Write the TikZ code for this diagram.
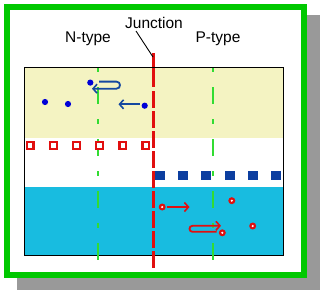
\documentclass[tikz,border=0pt]{standalone}
\usepackage{fontspec}
\setmainfont{Liberation Sans}
\usetikzlibrary{arrows.meta}
\definecolor{frameg}{RGB}{0,200,0}
\definecolor{dashg}{RGB}{50,220,50}
\definecolor{shadowgray}{RGB}{153,153,153}
\definecolor{nyellow}{RGB}{244,243,194}
\definecolor{pblue}{RGB}{24,188,224}
\definecolor{ionblue}{RGB}{12,62,160}
\definecolor{arrblue}{RGB}{20,72,160}
\definecolor{elblue}{RGB}{0,0,215}
\definecolor{jred}{RGB}{225,15,15}
\tikzset{
  lbl/.style={font=\fontsize{15.5}{18}\selectfont, anchor=base, inner sep=0pt},
  greendash/.style={dashg, line width=2pt, dash pattern=on 17pt off 15pt on 5pt off 15pt, dash phase=9pt},
  redline/.style={jred, line width=3pt},
  electron/.style={circle, fill=elblue, minimum size=6.2pt, inner sep=0pt},
  holeouter/.style={circle, fill=jred, minimum size=7pt, inner sep=0pt},
  holeinner/.style={circle, fill=white, minimum size=2.4pt, inner sep=0pt},
  posion/.style={draw=jred, line width=2.2pt, fill=white, minimum size=6.5pt, inner sep=0pt},
  negion/.style={fill=ionblue, minimum width=10pt, minimum height=9.3pt, inner sep=0pt},
  bluearrow/.style={arrblue, line width=1.8pt, -{Straight Barb[length=4pt,width=9pt,line width=1.6pt]}},
  redarrow/.style={jred, line width=1.8pt, -{Straight Barb[length=4pt,width=9pt,line width=1.6pt]}},
}
\begin{document}
\begin{tikzpicture}[x=1pt,y=-1pt]
\useasboundingbox (0,0) rectangle (322,295);
% shadow and frame
\fill[shadowgray] (17,15) rectangle (320,290);
\draw[frameg, line width=6pt, fill=white] (7,6.5) rectangle (304,275);
% regions
\fill[nyellow] (24.3,67.7) rectangle (283.7,137.7);
\fill[white] (24.3,137.7) rectangle (283.7,186.7);
\fill[pblue] (24.3,186.7) rectangle (283.7,255.7);
\draw[black, line width=1.1pt] (24.3,67.7) rectangle (283.7,255.7);
% labels
\node[lbl] (junc) at (154,28.3) {Junction};
\node[lbl] (ntype) at (88,42.7) {N-type};
\node[lbl] (ptype) at (218,42.7) {P-type};
% dashed guide lines
\coordinate (ntop) at (97.7,44);
\coordinate (nbot) at (97.7,269);
\coordinate (ptop) at (212.7,44);
\coordinate (pbot) at (212.7,269);
\begin{scope}
\clip (0,53) rectangle (322,295);
\draw[greendash] (ntop) -- (nbot);
\draw[greendash] (ptop) -- (pbot);
\end{scope}
% junction line
\coordinate (jtop) at (153.5,53);
\coordinate (jmid) at (153.5,87);
\coordinate (jdash) at (153.5,91);
\coordinate (jbot) at (153.5,267.5);
\draw[redline] (jtop) -- (jmid);
\draw[redline, dash pattern=on 16.5pt off 3.5pt] (jdash) -- (jbot);
\draw[black, line width=1.1pt] (24.3,67.7) -- (283.7,67.7);
% pointer
\coordinate (pstart) at (136,31);
\coordinate (pend) at (153,57);
\draw[black, line width=0.9pt] (pstart) -- (pend);
% positive ions (hollow red squares)
\foreach \i/\x in {1/30.3,2/53.4,3/76.5,4/99.6,5/122.7,6/145.8}
  \node[posion] (pi\i) at (\x,145.5) {};
% negative ions (blue squares)
\foreach \i/\x in {1/160,2/183.2,3/206.4,4/229.6,5/252.8,6/276}
  \node[negion] (ni\i) at (\x,175.5) {};
% electrons
\node[electron] (e1) at (90.3,82.6) {};
\node[electron] (e2) at (45,102) {};
\node[electron] (e3) at (68,104) {};
\node[electron] (e4) at (144.7,105.7) {};
% holes
\foreach \i/\x/\y in {1/162.2/207,2/231.8/200.7,3/222.3/232.8,4/252.7/226}{
  \node[holeouter] (h\i) at (\x,\y) {};
  \node[holeinner] at (\x,\y) {};
}
% electron arrows
\coordinate (ba1) at (139.5,104.3);
\coordinate (ba2) at (118.5,104.3);
\draw[bluearrow] (ba1) -- (ba2);
\coordinate (bu1) at (99,81.6);
\coordinate (bu2) at (116.4,81.6);
\coordinate (bu3) at (116.4,88.7);
\coordinate (bu4) at (92,88.7);
\draw[bluearrow] (bu1) -- (bu2) .. controls (121.2,81.6) and (121.2,88.7) .. (bu3) -- (bu4);
% hole arrows
\coordinate (ra1) at (167,207);
\coordinate (ra2) at (189.5,207);
\draw[redarrow] (ra1) -- (ra2);
\coordinate (ru1) at (216.7,231.8);
\coordinate (ru2) at (192.5,231.8);
\coordinate (ru3) at (192.5,225.8);
\coordinate (ru4) at (221,225.8);
\draw[redarrow] (ru1) -- (ru2) .. controls (188.5,231.8) and (188.5,225.8) .. (ru3) -- (ru4);
\end{tikzpicture}
\end{document}
